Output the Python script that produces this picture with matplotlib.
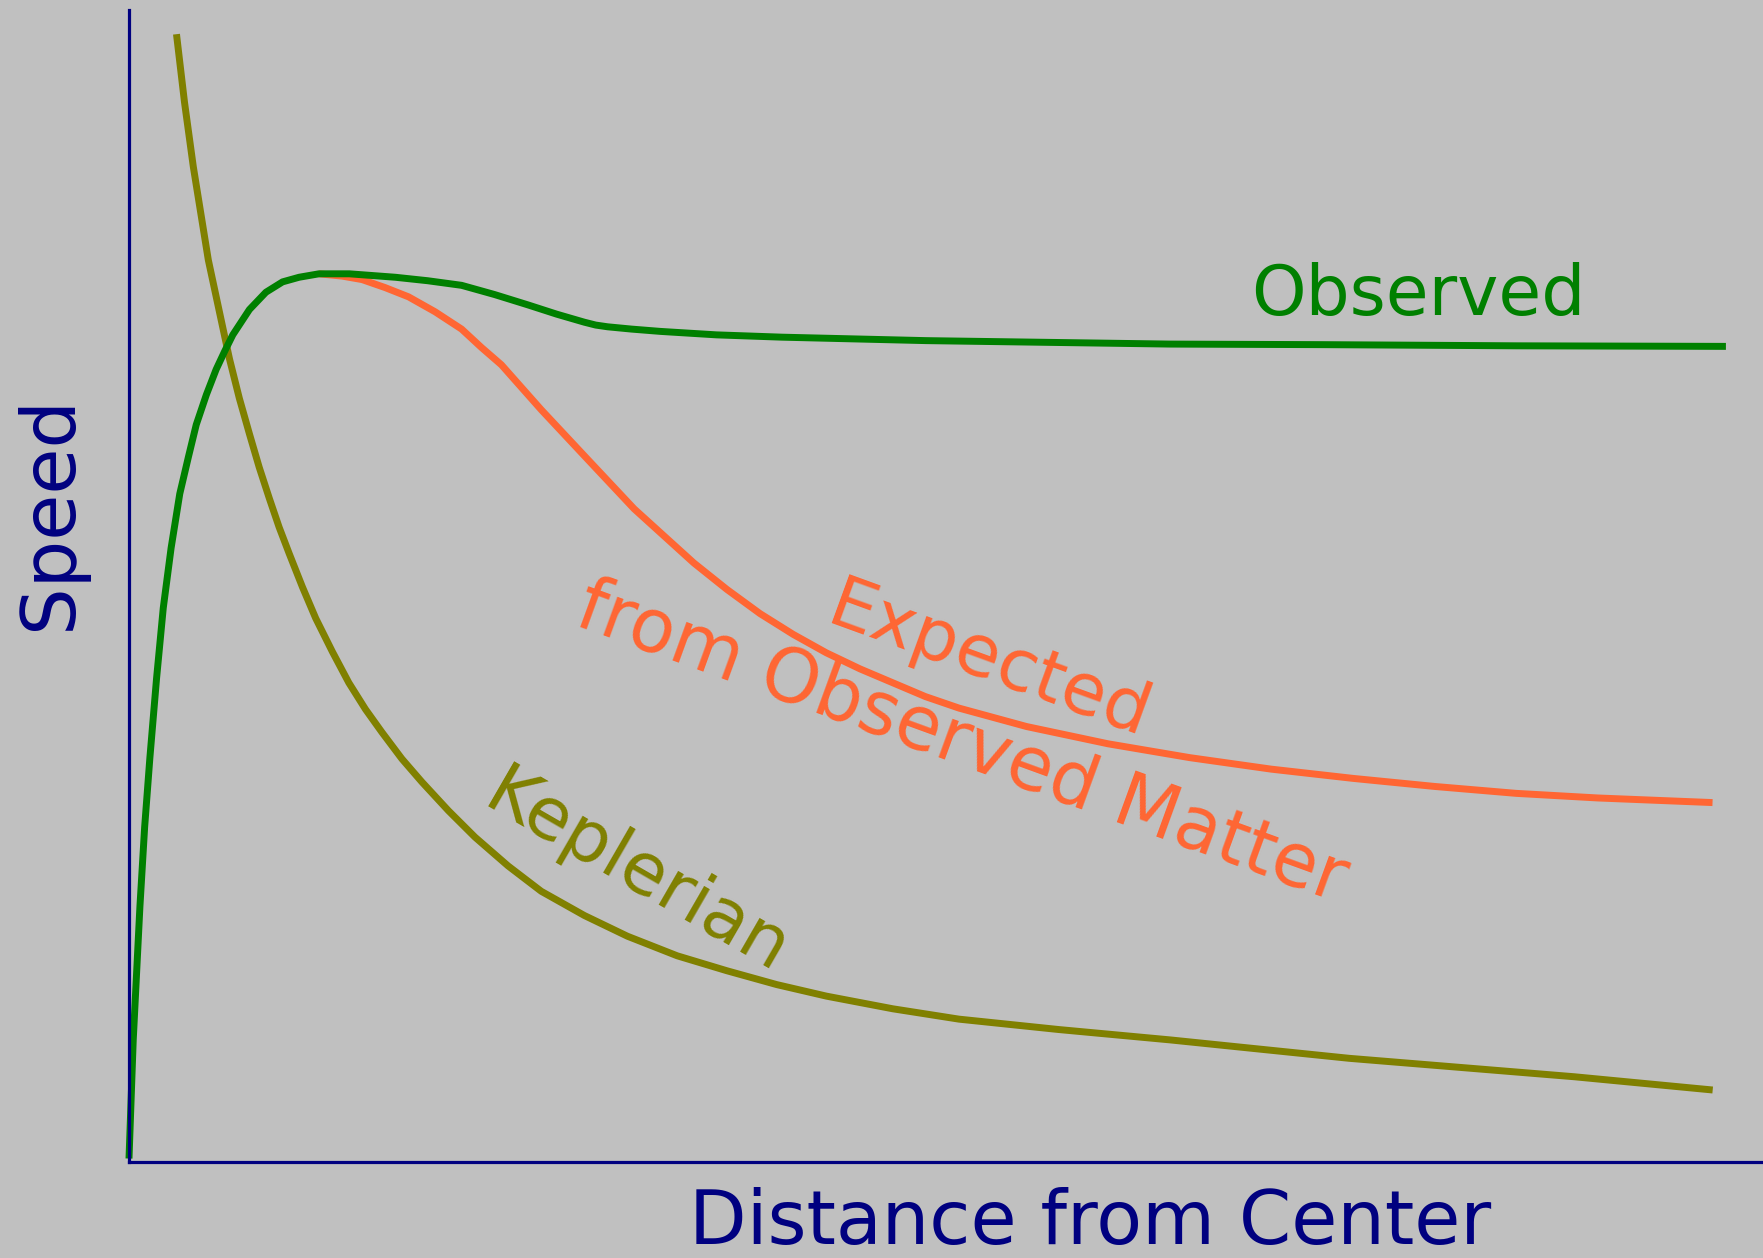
import numpy as np
from matplotlib import pyplot as plt

# Rotation curve of a spiral galaxy (schematic, arbitrary units 0-100)

# Observed curve
obs_dist = [0.0, 0.26, 0.67, 0.96, 1.28, 1.69, 2.10, 2.58, 3.11, 3.64, 4.12, 4.74,
            5.34, 5.87, 6.36, 7.38, 8.39, 9.41, 10.42, 11.64, 13.5, 16.32, 18.3,
            20.38, 22.4, 24.45, 26.2, 27.90, 28.6, 29.33, 30.8, 32.57, 36.0,
            40.0, 48.83, 63.79, 73.2, 85.0, 97.85]
obs_speed = [0.3, 10.6, 22.2, 29.1, 35.1, 42.0, 48.1, 53.3, 58.0, 61.2, 64.0, 66.6,
             68.8, 70.4, 71.8, 74.0, 75.5, 76.4, 76.8, 77.1, 77.1, 76.8, 76.5,
             76.1, 75.3, 74.4, 73.6, 72.9, 72.65, 72.5, 72.3, 72.1, 71.8,
             71.6, 71.3, 71.0, 70.95, 70.85, 70.8]

# Expected from observed matter
exp_dist = [11.64, 13.06, 14.28, 15.7, 17.13, 18.76, 20.38, 21.60, 22.82, 25.26,
            28.10, 30.95, 34.61, 36.64, 38.67, 40.7, 42.73, 44.8, 46.80, 48.8,
            50.86, 55.0, 60.0, 65.0, 70.0, 75.0, 80.0, 85.0, 90.0, 97.03]
exp_speed = [77.1, 76.9, 76.6, 75.9, 75.1, 73.8, 72.3, 70.7, 69.2, 65.3,
             61.0, 56.7, 52.0, 49.7, 47.6, 45.8, 44.2, 42.8, 41.6, 40.4,
             39.4, 37.8, 36.3, 35.1, 34.1, 33.3, 32.6, 32.0, 31.6, 31.2]

# Keplerian curve
kep_dist = [2.91, 3.4, 3.94, 4.86, 5.51, 6.16, 6.76, 7.38, 7.98, 8.60, 9.20, 9.82,
            10.63, 11.44, 12.46, 13.47, 14.49, 15.50, 16.72, 17.94, 19.57, 21.20,
            23.23, 25.26, 27.90, 30.54, 33.59, 36.64, 39.69, 42.73, 46.80, 50.86,
            56.96, 63.79, 74.77, 88.56, 97.04]
kep_speed = [97.9, 92.0, 86.4, 78.3, 74.0, 69.7, 66.3, 63.2, 60.3, 57.6, 55.1, 52.8,
             49.9, 47.2, 44.3, 41.6, 39.3, 37.3, 35.0, 33.0, 30.5, 28.2,
             25.7, 23.5, 21.4, 19.6, 17.9, 16.6, 15.4, 14.4, 13.3, 12.4,
             11.5, 10.6, 9.0, 7.4, 6.25]

bg = '#c0c0c0'
navy = '#000080'
green = '#008000'
olive = '#808000'
orange = '#ff6633'

W, H = 1763, 1258
fig = plt.figure(figsize=(W / 100, H / 100), dpi=100, facecolor=bg)
ax = fig.add_axes([129 / W, (H - 1162) / H, (1761 - 129) / W, (1162 - 10) / H])
ax.set_facecolor(bg)
ax.set_xlim(0, 100)
ax.set_ylim(0, 100)

for s in ['top', 'right']:
    ax.spines[s].set_visible(False)
for s in ['left', 'bottom']:
    ax.spines[s].set_color(navy)
    ax.spines[s].set_linewidth(2.3)
ax.set_xticks([])
ax.set_yticks([])

lw = 5.0
ax.plot(kep_dist, kep_speed, color=olive, lw=lw, clip_on=False, solid_capstyle='butt',
        solid_joinstyle='round')
ax.plot(exp_dist, exp_speed, color=orange, lw=lw, clip_on=False, solid_capstyle='butt',
        solid_joinstyle='round')
ax.plot(obs_dist, obs_speed, color=green, lw=lw, clip_on=False, solid_capstyle='butt',
        solid_joinstyle='round')

ax.text(79.0, 73.5, 'Observed', color=green, fontsize=50, ha='center', va='baseline')
ax.text(52.7, 43.4, 'Expected', color=orange, fontsize=52, ha='center', va='center',
        rotation=-20, rotation_mode='anchor')
ax.text(51.0, 36.3, 'from Observed Matter', color=orange, fontsize=53, ha='center',
        va='center', rotation=-20, rotation_mode='anchor')
ax.text(31.1, 25.0, 'Keplerian', color=olive, fontsize=52, ha='center', va='center',
        rotation=-30, rotation_mode='anchor')

fig.text(50 / W, 1 - 513 / H, 'Speed', color=navy, fontsize=54, rotation=90,
         ha='center', va='center')
fig.text(1090 / W, (H - 1244) / H, 'Distance from Center', color=navy, fontsize=54,
         ha='center', va='baseline')

plt.savefig('out.png', dpi=100, facecolor=bg)
